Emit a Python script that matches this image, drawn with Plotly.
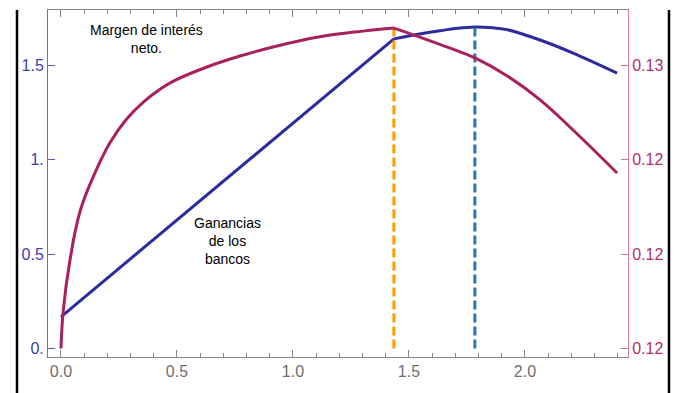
import plotly.graph_objects as go

# Bank profits (left axis)
profit_x = [0.0, 1.435, 1.534, 1.634, 1.710, 1.784, 1.860, 1.922, 2.065, 2.207, 2.397]
profit_y = [0.168, 1.641, 1.664, 1.684, 1.697, 1.704, 1.700, 1.690, 1.635, 1.566, 1.460]

# Net interest margin (right axis)
nim_x = [0.0, 0.010, 0.039, 0.082, 0.139, 0.211, 0.283, 0.355, 0.427, 0.483, 0.629,
         0.772, 0.914, 1.116, 1.302, 1.435, 1.534, 1.677, 1.784, 1.922, 2.065, 2.207, 2.397]
nim_y = [0.11800, 0.11902, 0.12035, 0.12163, 0.12255, 0.12345, 0.12408, 0.12453, 0.12487,
         0.12508, 0.12546, 0.12575, 0.12599, 0.12626, 0.12641, 0.12649, 0.12628, 0.12596,
         0.12570, 0.12523, 0.12459, 0.12379, 0.12265]

# Optimum markers
opt_nim_x = 1.435
opt_profit_x = 1.784
opt_top = 1.70

left_ticks = [0, 0.5, 1.0, 1.5]
left_labels = ["0.", "0.5", "1.", "1.5"]
right_ticks = [0.118, 0.1205, 0.123, 0.1255]
x_ticks = [0.0, 0.5, 1.0, 1.5, 2.0]
x_labels = ["0.0", "0.5", "1.0", "1.5", "2.0"]

BLUE = "#2b2b9e"
MAG = "#a8215e"
font_family = "Liberation Sans, Arial, sans-serif"

W, H = 681, 393
ML, MR, MT, MB = 48, 53, 10, 36
PW, PH = W - ML - MR, H - MT - MB

fig = go.Figure()

# Magenta curve: two smooth pieces meeting at its peak (kink kept)
k = nim_x.index(opt_nim_x)
for xs, ys in [(nim_x[:k + 1], nim_y[:k + 1]), (nim_x[k:], nim_y[k:])]:
    fig.add_trace(go.Scatter(x=xs, y=ys, mode="lines", yaxis="y2",
                             line=dict(color=MAG, width=3, shape="spline", smoothing=1.2),
                             showlegend=False, hoverinfo="skip"))

# Blue curve: straight piece then smooth piece
j = profit_x.index(opt_nim_x)
fig.add_trace(go.Scatter(x=profit_x[:j + 1], y=profit_y[:j + 1], mode="lines",
                         line=dict(color=BLUE, width=3),
                         showlegend=False, hoverinfo="skip"))
fig.add_trace(go.Scatter(x=profit_x[j:], y=profit_y[j:], mode="lines",
                         line=dict(color=BLUE, width=3, shape="spline", smoothing=1.0),
                         showlegend=False, hoverinfo="skip"))

fig.add_trace(go.Scatter(x=[opt_nim_x, opt_nim_x], y=[0, opt_top], mode="lines",
                         line=dict(color="#ff9a00", width=3, dash="9px,4px"),
                         showlegend=False, hoverinfo="skip"))
fig.add_trace(go.Scatter(x=[opt_profit_x, opt_profit_x], y=[0, opt_top], mode="lines",
                         line=dict(color="#2e75b6", width=3, dash="9px,4px"),
                         showlegend=False, hoverinfo="skip"))

fig.update_layout(
    width=W, height=H,
    margin=dict(l=ML, r=MR, t=MT, b=MB, autoexpand=False),
    paper_bgcolor="white", plot_bgcolor="white",
    font=dict(family=font_family, size=15),
    xaxis=dict(range=[-0.056, 2.444], tickvals=x_ticks, ticktext=x_labels,
               ticks="inside", ticklen=7, tickcolor="#888", tickwidth=1,
               minor=dict(dtick=0.1, tick0=0, ticks="inside", ticklen=4, tickcolor="#888"),
               showline=True, linecolor="#888", linewidth=1, mirror="ticks",
               showgrid=False, zeroline=False, automargin=False,
               tickfont=dict(color="#6e6e6e", size=16)),
    yaxis=dict(range=[-0.045, 1.794], tickvals=left_ticks, ticktext=left_labels,
               ticks="inside", ticklen=7, tickcolor="#5a5ac8", tickwidth=1,
               showline=True, linecolor="#6a6ad0", linewidth=1,
               showgrid=False, zeroline=False, automargin=False,
               tickfont=dict(color="#4040b0", size=16)),
    yaxis2=dict(range=[0.117775, 0.12697], overlaying="y", side="right",
                tickvals=right_ticks, tickformat=".2f",
                ticks="inside", ticklen=7, tickcolor="#e0709a", tickwidth=1,
                showline=True, linecolor="#e07aa0", linewidth=1,
                showgrid=False, zeroline=False, automargin=False,
                tickfont=dict(color="#b03070", size=16)),
)

fig.add_annotation(x=0.37, y=1.64, xref="x", yref="y", showarrow=False,
                   text="Margen de interés<br>neto.", align="center",
                   font=dict(family=font_family, size=14, color="black"))
fig.add_annotation(x=0.717, y=0.57, xref="x", yref="y", showarrow=False,
                   text="Ganancias<br>de los<br>bancos", align="center",
                   font=dict(family=font_family, size=14, color="black"))

# Slide border lines (pixel positions converted to paper coordinates)
for px in [17, 669]:
    xp = (px - ML) / PW
    fig.add_shape(type="line", xref="paper", yref="paper", x0=xp, x1=xp,
                  y0=1.0, y1=-(MB + 5) / PH,
                  line=dict(color="black", width=2.5))

fig.write_html(
    "out.html",
    config={"displayModeBar": False},
    post_script="document.body.style.margin='0';document.body.style.padding='0';"
                "document.body.style.overflow='hidden';",
)
